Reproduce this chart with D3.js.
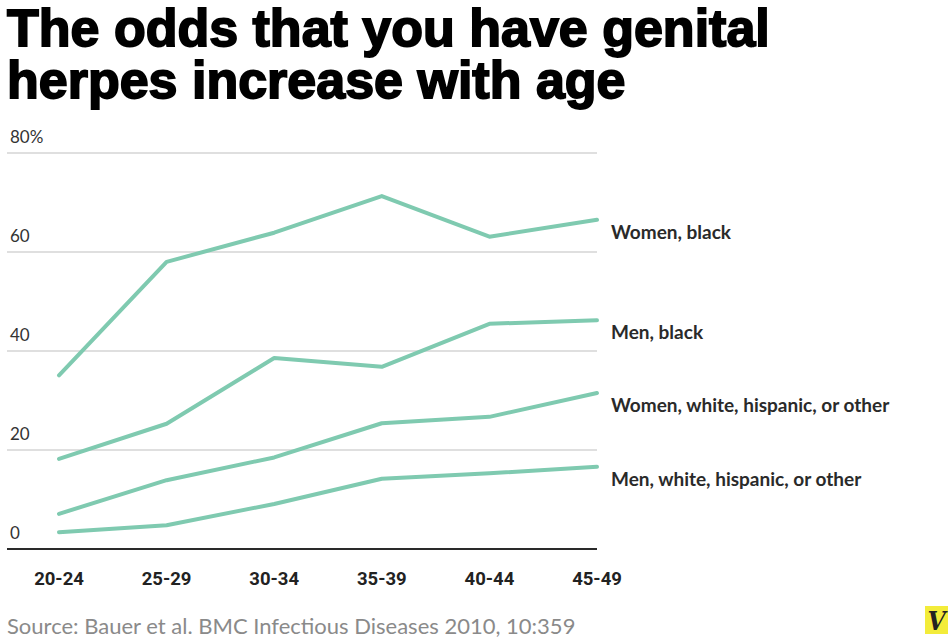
<!DOCTYPE html>
<html>
<head>
<meta charset="utf-8">
<script src="https://cdn.jsdelivr.net/npm/d3@7"></script>
<style>
  body { margin: 0; background: #fff; }
  svg { display: block; }
</style>
</head>
<body>
<svg id="chart" width="952" height="642"></svg>
<script>
// data (percent infected)
const ageGroups = ["20-24", "25-29", "30-34", "35-39", "40-44", "45-49"];
const seriesNames = ["Women, black", "Men, black", "Women, white, hispanic, or other", "Men, white, hispanic, or other"];
const womenBlack = [35.1, 58.0, 63.9, 71.3, 63.1, 66.5];
const menBlack = [18.2, 25.3, 38.6, 36.8, 45.5, 46.2];
const womenWhite = [7.1, 13.9, 18.5, 25.4, 26.7, 31.5];
const menWhite = [3.4, 4.8, 9.1, 14.2, 15.3, 16.6];
const yTicks = [0, 20, 40, 60, 80];

const series = [womenBlack, menBlack, womenWhite, menWhite].map((vals, i) => ({
  name: seriesNames[i],
  values: vals
}));

const svg = d3.select("svg#chart");

const margin = ({ top: 153, right: 355, bottom: 93, left: 7 });
const width = 952;
const height = 642;

let x = d3.scalePoint()
  .domain(ageGroups)
  .range([59, 597]);

let y = d3.scaleLinear()
  .domain([0, 80])
  .range([height - margin.bottom, margin.top]);

// title
const title = svg.append("g").attr("id", "title");
["The odds that you have genital", "herpes increase with age"].forEach(function(t, i) {
  title.append("text")
    .attr("x", 7)
    .attr("y", 46 + i * 52)
    .style("font-family", "'Liberation Sans Narrow', 'Arial Narrow', sans-serif")
    .style("font-weight", "bold")
    .style("font-size", "52px")
    .style("fill", "#000")
    .style("stroke", "#000")
    .style("stroke-width", "1.8px")
    .text(t);
});

// gridlines
svg.append("g")
  .selectAll("line")
  .data(yTicks.filter(d => d > 0))
  .join("line")
  .attr("x1", margin.left)
  .attr("x2", x(ageGroups[ageGroups.length - 1]))
  .attr("y1", d => y(d))
  .attr("y2", d => y(d))
  .style("stroke", "#d4d4d4")
  .style("stroke-width", 1.3);

// baseline
svg.append("line")
  .attr("x1", margin.left)
  .attr("x2", x(ageGroups[ageGroups.length - 1]))
  .attr("y1", y(0))
  .attr("y2", y(0))
  .style("stroke", "#2a2a2a")
  .style("stroke-width", 2);

// y tick labels
svg.append("g")
  .selectAll("text")
  .data(yTicks)
  .join("text")
  .attr("x", 10)
  .attr("y", d => y(d) - 10)
  .style("font-family", "Lato, sans-serif")
  .style("font-weight", 400)
  .style("font-size", "17px")
  .style("fill", "#333")
  .text(d => d === 80 ? d + "%" : d);

// x labels
svg.append("g")
  .selectAll("text")
  .data(ageGroups)
  .join("text")
  .attr("x", d => x(d))
  .attr("y", 585)
  .attr("text-anchor", "middle")
  .style("font-family", "'Roboto', sans-serif")
  .style("font-weight", "bold")
  .style("font-size", "18.5px")
  .style("fill", "#222")
  .text(d => d);

// lines
const line = d3.line()
  .x((d, i) => x(ageGroups[i]))
  .y(d => y(d));

svg.append("g")
  .selectAll("path")
  .data(series)
  .join("path")
  .attr("d", d => line(d.values))
  .style("fill", "none")
  .style("stroke", "#7fcab0")
  .style("stroke-width", 4)
  .style("stroke-linejoin", "round")
  .style("stroke-linecap", "round");

// series labels
svg.append("g")
  .selectAll("text")
  .data(series)
  .join("text")
  .attr("x", 611)
  .attr("y", d => y(d.values[d.values.length - 1]) + 19)
  .style("font-family", "Lato, sans-serif")
  .style("font-weight", "bold")
  .style("font-size", "19px")
  .style("fill", "#2a2a2a")
  .text(d => d.name);

// source
svg.append("text")
  .attr("x", 7)
  .attr("y", 634)
  .style("font-family", "Lato, sans-serif")
  .style("font-weight", 400)
  .style("font-size", "22px")
  .style("fill", "#8a8a8a")
  .text("Source: Bauer et al. BMC Infectious Diseases 2010, 10:359");

// V logo
const logo = svg.append("g").attr("transform", translate(925, 606));
logo.append("rect")
  .attr("width", 23)
  .attr("height", 28)
  .style("fill", "#f3ec3a");
logo.append("text")
  .attr("x", 11.5)
  .attr("y", 24)
  .attr("text-anchor", "middle")
  .style("font-family", "'DejaVu Serif Condensed', 'DejaVu Serif', serif")
  .style("font-style", "italic")
  .style("font-weight", "bold")
  .style("font-size", "26px")
  .style("fill", "#222")
  .text("V");

function translate(x, y) {
  return 'translate(' + x + ',' + y + ')';
}
</script>
</body>
</html>
